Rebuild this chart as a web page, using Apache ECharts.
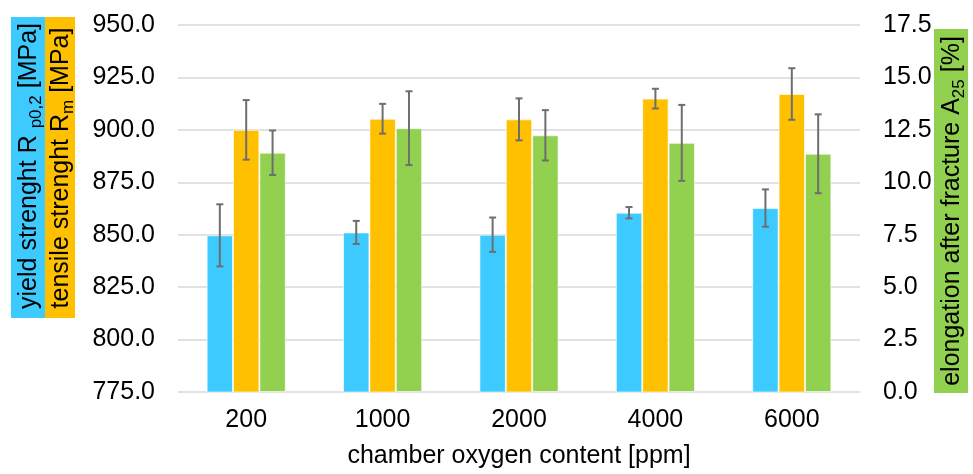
<!DOCTYPE html>
<html>
<head>
<meta charset="utf-8">
<script src="https://cdn.jsdelivr.net/npm/echarts@6/dist/echarts.min.js"></script>
<style>
  html, body { margin: 0; padding: 0; background: #ffffff; }
  #chart { width: 973px; height: 474px; }
</style>
</head>
<body>
<div id="chart"></div>
<script>
// Chamber oxygen content categories (ppm)
const categories = ['200', '1000', '2000', '4000', '6000'];

// Yield strength Rp0,2 [MPa] and its standard deviation
const yieldMean = [849.7, 851.1, 850.0, 860.5, 862.7];
const yieldErr  = [14.8, 5.5, 8.2, 2.7, 8.9];

// Tensile strength Rm [MPa] and its standard deviation
const tensileMean = [900.0, 905.3, 905.0, 914.9, 917.1];
const tensileErr  = [14.2, 7.1, 10.0, 4.7, 12.3];

// Elongation after fracture A25 [%] and its standard deviation
const elongMean = [11.41, 12.58, 12.24, 11.88, 11.36];
const elongErr  = [1.06, 1.76, 1.20, 1.81, 1.88];

const COLORS = { yield: '#3DCBFF', tensile: '#FFC000', elong: '#92D050' };
const FONT = 'Liberation Sans, Arial, sans-serif';
const FS = 25;
const GAP_RATIO = 0.42; // barCategoryGap as a fraction

// Error bar rows: [category index, low, high, slot (0,1,2 within group)]
function errRows(mean, err, slot) {
  return mean.map((m, i) => [i, m - err[i], m + err[i], slot]);
}

function renderErr(params, api) {
  const idx = api.value(0);
  const lo = api.coord([idx, api.value(1)]);
  const hi = api.coord([idx, api.value(2)]);
  const band = api.size([1, 0])[0];
  const barW = band * (1 - GAP_RATIO) / 3;
  const x = lo[0] + (api.value(3) - 1) * barW;
  const cap = 3.5;
  const style = { stroke: '#6E6E6E', lineWidth: 2 };
  return {
    type: 'group',
    children: [
      { type: 'line', shape: { x1: x, y1: hi[1], x2: x, y2: lo[1] }, style },
      { type: 'line', shape: { x1: x - cap, y1: hi[1], x2: x + cap, y2: hi[1] }, style },
      { type: 'line', shape: { x1: x - cap, y1: lo[1], x2: x + cap, y2: lo[1] }, style }
    ]
  };
}

const chart = echarts.init(document.getElementById('chart'), null, { renderer: 'canvas' });

const axisLabelStyle = { color: '#000', fontSize: FS, fontFamily: FONT, margin: 23 };

const subRich = {
  n: { fontSize: FS, fontFamily: FONT, color: '#000' },
  s: { fontSize: 17, fontFamily: FONT, color: '#000', padding: [14, 0, 0, 0] }
};

chart.setOption({
  animation: false,
  backgroundColor: '#ffffff',
  grid: { left: 178, right: 113, top: 25, bottom: 76, containLabel: false },
  xAxis: {
    type: 'category',
    data: categories,
    axisLine: { show: false },
    axisTick: { show: false },
    axisLabel: Object.assign({}, axisLabelStyle, { margin: 16 }),
    name: 'chamber oxygen content [ppm]',
    nameLocation: 'middle',
    nameGap: 52,
    nameTextStyle: { color: '#000', fontSize: FS, fontFamily: FONT, verticalAlign: 'top' }
  },
  yAxis: [
    {
      type: 'value',
      min: 775, max: 950, interval: 25,
      axisLine: { show: false },
      axisTick: { show: false },
      axisLabel: Object.assign({}, axisLabelStyle, { formatter: v => v.toFixed(1) }),
      splitLine: { lineStyle: { color: '#D9D9D9', width: 1.5 } }
    },
    {
      type: 'value',
      min: 0, max: 17.5, interval: 2.5,
      axisLine: { show: false },
      axisTick: { show: false },
      axisLabel: Object.assign({}, axisLabelStyle, { formatter: v => v.toFixed(1) }),
      splitLine: { show: false }
    }
  ],
  series: [
    {
      name: 'yield strenght', type: 'bar', yAxisIndex: 0, data: yieldMean,
      barGap: '0%', barCategoryGap: (GAP_RATIO * 100) + '%',
      itemStyle: { color: COLORS.yield, borderColor: 'rgba(255,255,255,0.6)', borderWidth: 1 }
    },
    {
      name: 'tensile strenght', type: 'bar', yAxisIndex: 0, data: tensileMean,
      barGap: '0%', barCategoryGap: (GAP_RATIO * 100) + '%',
      itemStyle: { color: COLORS.tensile, borderColor: 'rgba(255,255,255,0.6)', borderWidth: 1 }
    },
    {
      name: 'elongation', type: 'bar', yAxisIndex: 1, data: elongMean,
      barGap: '0%', barCategoryGap: (GAP_RATIO * 100) + '%',
      itemStyle: { color: COLORS.elong, borderColor: 'rgba(255,255,255,0.6)', borderWidth: 1 }
    },
    {
      type: 'custom', yAxisIndex: 0, renderItem: renderErr, z: 10,
      data: errRows(yieldMean, yieldErr, 0).concat(errRows(tensileMean, tensileErr, 1))
    },
    {
      type: 'custom', yAxisIndex: 1, renderItem: renderErr, z: 10,
      data: errRows(elongMean, elongErr, 2)
    }
  ],
  graphic: [
    // Left axis titles on coloured strips
    { type: 'rect', left: 11, top: 17, shape: { width: 34, height: 301 }, style: { fill: COLORS.yield } },
    { type: 'rect', left: 45, top: 17, shape: { width: 30, height: 301 }, style: { fill: COLORS.tensile } },
    {
      type: 'text', x: 29, y: 166, rotation: Math.PI / 2,
      style: {
        text: '{n|yield strenght R }{s|p0,2}{n| [MPa]}',
        rich: subRich, align: 'center', verticalAlign: 'middle'
      }
    },
    {
      type: 'text', x: 61, y: 168, rotation: Math.PI / 2,
      style: {
        text: '{n|tensile strenght R}{s|m}{n| [MPa]}',
        rich: subRich, align: 'center', verticalAlign: 'middle'
      }
    },
    // Right axis title
    { type: 'rect', left: 934, top: 29, shape: { width: 34, height: 364 }, style: { fill: COLORS.elong } },
    {
      type: 'text', x: 952, y: 211, rotation: Math.PI / 2,
      style: {
        text: '{n|elongation after fracture A}{s|25}{n| [%]}',
        rich: subRich, align: 'center', verticalAlign: 'middle'
      }
    }
  ]
});
</script>
</body>
</html>
